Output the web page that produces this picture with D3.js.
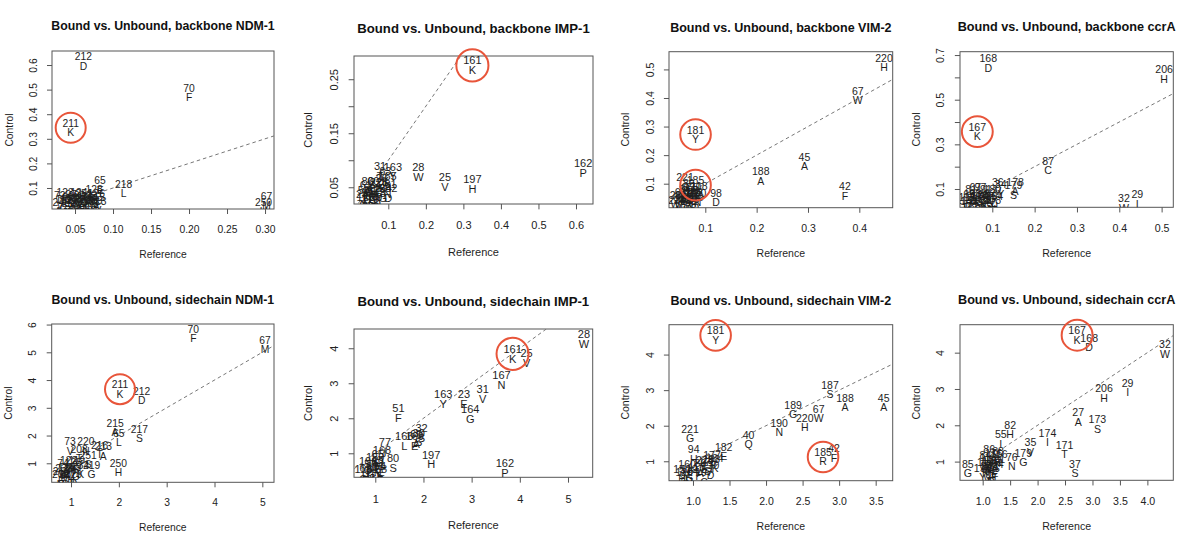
<!DOCTYPE html>
<html><head><meta charset="utf-8">
<script src="https://cdn.jsdelivr.net/npm/d3@7"></script>
<style>
body{margin:0;background:#fff}
svg text{font-family:"Liberation Sans",Arial,Helvetica,sans-serif;fill:#1e1e1e}
</style>
</head><body>
<svg id="c" width="1200" height="546"></svg>
<script>
// ---------------- DATA ----------------
const titles = [
  "Bound vs. Unbound, backbone NDM-1",
  "Bound vs. Unbound, backbone IMP-1",
  "Bound vs. Unbound, backbone VIM-2",
  "Bound vs. Unbound, backbone ccrA",
  "Bound vs. Unbound, sidechain NDM-1",
  "Bound vs. Unbound, sidechain IMP-1",
  "Bound vs. Unbound, sidechain VIM-2",
  "Bound vs. Unbound, sidechain ccrA"
];
const xAxisTitle = "Reference";
const yAxisTitle = "Control";

// [reference, control, residue number, amino acid]
const backboneNDM1 = [
  [0.061,0.615,"212","D"],[0.200,0.486,"70","F"],[0.0443,0.345,"211","K"],
  [0.083,0.111,"65","E"],[0.114,0.097,"218","L"],[0.075,0.076,"128","A"],
  [0.302,0.049,"67","M"],[0.298,0.025,"250","H"],
  [0.037,0.063,"123","T"],[0.030,0.050,"72","V"],[0.028,0.022,"24","A"],
  [0.035,0.035,"119","G"],[0.040,0.045,"69","S"],[0.045,0.055,"97","D"],
  [0.048,0.040,"122","N"],[0.050,0.030,"120","H"],[0.052,0.050,"189","C"],
  [0.055,0.062,"124","Q"],[0.055,0.025,"220","I"],[0.058,0.045,"116","E"],
  [0.060,0.035,"233","R"],[0.062,0.060,"251","G"],[0.064,0.028,"234","K"],
  [0.066,0.048,"64","L"],[0.068,0.040,"66","T"],[0.072,0.052,"73","V"],
  [0.075,0.030,"219","G"],[0.078,0.045,"215","A"],[0.044,0.020,"252","P"],
  [0.040,0.030,"209","S"],[0.070,0.020,"208","Y"],[0.080,0.028,"213","V"],
  [0.078,0.060,"126","T"]
];
const backboneIMP1 = [
  [0.324,0.2756,"161","K"],[0.619,0.085,"162","P"],[0.324,0.0557,"197","H"],
  [0.251,0.0604,"25","V"],[0.180,0.0783,"28","W"],
  [0.078,0.080,"31","T"],[0.112,0.079,"163","Y"],[0.092,0.070,"63","K"],
  [0.098,0.062,"165","S"],[0.045,0.052,"80","A"],[0.060,0.052,"60","E"],
  [0.098,0.047,"281","N"],[0.085,0.040,"164","G"],[0.100,0.040,"282","D"],
  [0.040,0.045,"61","L"],[0.035,0.035,"58","I"],[0.045,0.030,"51","V"],
  [0.050,0.040,"59","T"],[0.055,0.025,"86","S"],[0.060,0.035,"62","Q"],
  [0.065,0.045,"84","H"],[0.070,0.030,"118","D"],[0.075,0.050,"221","C"],
  [0.040,0.022,"120","G"],[0.052,0.020,"119","F"],[0.068,0.022,"29","P"],
  [0.030,0.028,"24","A"],[0.082,0.058,"26","R"]
];
const backboneVIM2 = [
  [0.448,0.524,"220","H"],[0.397,0.409,"67","W"],[0.081,0.272,"181","Y"],
  [0.293,0.176,"45","A"],[0.208,0.126,"188","A"],[0.372,0.0734,"42","F"],
  [0.121,0.0507,"98","D"],
  [0.0605,0.105,"221","G"],[0.081,0.095,"185","R"],[0.088,0.075,"118","C"],
  [0.068,0.085,"86","T"],[0.075,0.070,"120","D"],[0.042,0.045,"28","W"],
  [0.048,0.035,"60","V"],[0.052,0.055,"64","F"],[0.055,0.030,"116","H"],
  [0.058,0.045,"119","P"],[0.060,0.065,"84","E"],[0.062,0.025,"61","L"],
  [0.065,0.050,"179","S"],[0.068,0.035,"210","K"],[0.070,0.060,"198","N"],
  [0.072,0.028,"233","I"],[0.075,0.045,"219","G"],[0.078,0.055,"182","E"],
  [0.080,0.035,"230","Q"],[0.045,0.025,"224","A"],[0.085,0.050,"190","N"]
];
const backboneCcrA = [
  [0.0905,0.663,"168","D"],[0.506,0.615,"206","H"],[0.0646,0.357,"167","K"],
  [0.232,0.205,"87","C"],[0.154,0.110,"178","A"],[0.411,0.036,"32","W"],
  [0.4425,0.054,"29","I"],
  [0.113,0.110,"36","V"],[0.120,0.100,"34","Y"],[0.150,0.095,"179","S"],
  [0.050,0.080,"81","T"],[0.060,0.085,"67","L"],[0.072,0.085,"97","F"],
  [0.085,0.080,"91","E"],[0.100,0.080,"180","G"],[0.095,0.060,"62","N"],
  [0.105,0.045,"204","H"],[0.040,0.040,"117","P"],[0.035,0.030,"115","I"],
  [0.045,0.055,"65","D"],[0.055,0.040,"118","Q"],[0.060,0.060,"68","A"],
  [0.065,0.030,"203","C"],[0.070,0.050,"120","S"],[0.075,0.035,"121","R"],
  [0.080,0.055,"88","K"],[0.085,0.030,"22","M"],[0.090,0.045,"205","G"],
  [0.045,0.025,"142","W"],[0.100,0.030,"208","H"]
];
const sidechainNDM1 = [
  [3.557,5.66,"70","F"],[5.056,5.26,"67","M"],[2.024,3.67,"211","K"],
  [2.478,3.43,"212","D"],[1.92,2.27,"215","A"],[2.0,1.91,"65","L"],
  [2.43,2.05,"217","S"],[1.99,0.85,"250","H"],[1.43,0.76,"219","G"],
  [0.83,0.85,"74","L"],[0.98,1.61,"73","V"],[1.31,1.61,"220","N"],
  [1.17,1.35,"208","T"],[1.36,1.14,"251","S"],[1.675,1.43,"213","A"],
  [1.60,1.50,"216","T"],[1.05,0.87,"125","I"],[0.95,0.95,"122","Y"],
  [1.10,0.70,"69","G"],[0.80,0.55,"260","E"],[0.88,0.40,"64","C"],
  [1.05,0.45,"120","D"],[1.20,0.78,"234","K"],[0.90,0.70,"116","F"],
  [1.00,0.60,"66","H"],[0.85,0.65,"233","P"],[0.95,0.50,"97","Q"],
  [1.12,0.95,"119","R"],[0.78,0.42,"209","N"]
];
const sidechainIMP1 = [
  [5.33,4.27,"28","W"],[3.85,3.84,"161","K"],[4.14,3.73,"25","V"],
  [3.62,3.10,"167","N"],[2.41,2.54,"163","Y"],[2.84,2.55,"23","E"],
  [3.23,2.69,"31","V"],[2.97,2.13,"164","G"],[1.48,2.15,"51","F"],
  [2.16,0.82,"197","H"],[3.69,0.57,"162","P"],
  [1.96,1.57,"32","S"],[1.60,1.35,"166","L"],[1.82,1.35,"169","E"],
  [1.90,1.45,"30","S"],[1.85,1.40,"60","A"],[1.20,1.19,"77","I"],
  [1.14,0.96,"168","T"],[1.00,0.75,"150","D"],[0.90,0.55,"57","G"],
  [1.05,0.60,"59","N"],[0.80,0.45,"62","H"],[0.95,0.40,"61","K"],
  [1.10,0.50,"64","F"],[0.85,0.65,"196","Q"],[1.05,0.85,"65","E"],
  [0.75,0.40,"118","C"],[1.00,0.50,"221","D"],[1.37,0.71,"80","S"],
  [1.12,0.41,"58","T"]
];
const sidechainVIM2 = [
  [1.31,4.54,"181","Y"],[2.875,3.01,"187","S"],[3.08,2.65,"188","A"],
  [3.61,2.64,"45","A"],[2.37,2.45,"189","G"],[2.72,2.33,"67","W"],
  [2.53,2.09,"220","H"],[2.18,1.95,"190","N"],[0.96,1.78,"221","G"],
  [1.76,1.61,"40","Q"],[1.42,1.27,"182","E"],[1.01,1.20,"94","H"],
  [2.78,1.12,"185","R"],[2.93,1.23,"42","F"],
  [1.16,0.90,"223","E"],[1.26,1.05,"177","I"],[1.24,0.75,"170","D"],
  [1.15,0.55,"197","C"],[0.85,0.65,"150","H"],[0.92,0.78,"160","V"],
  [0.95,0.65,"119","G"],[0.88,0.55,"120","H"],[1.05,0.70,"116","T"],
  [1.20,0.85,"178","S"],[1.25,0.92,"183","T"],[0.90,0.50,"61","F"],
  [1.00,0.58,"64","L"],[1.10,0.80,"86","A"],[1.30,0.95,"184","K"]
];
const sidechainCcrA = [
  [2.72,4.48,"167","K"],[2.94,4.28,"168","D"],[4.32,4.09,"32","W"],
  [3.64,3.03,"29","I"],[3.21,2.88,"206","H"],[2.74,2.22,"27","A"],
  [3.09,2.03,"173","S"],[1.50,1.88,"82","H"],[1.33,1.62,"55","I"],
  [2.18,1.66,"174","I"],[2.49,1.33,"171","T"],[1.87,1.40,"35","V"],
  [1.74,1.11,"179","G"],[1.53,1.00,"76","N"],[2.68,0.81,"37","S"],
  [0.73,0.80,"85","G"],[1.12,1.20,"86","L"],
  [1.20,1.10,"176","F"],[1.30,1.08,"116","T"],[1.10,1.00,"118","D"],
  [1.15,0.90,"120","H"],[1.05,0.85,"119","K"],[1.25,0.95,"121","S"],
  [1.00,0.70,"190","Y"],[1.08,0.65,"61","V"],[1.18,0.70,"64","H"],
  [1.22,0.80,"204","E"],[1.12,0.75,"208","Q"],[1.05,1.05,"84","G"],
  [1.28,1.15,"88","R"],[1.15,0.60,"62","D"]
];
const panelData = [backboneNDM1, backboneIMP1, backboneVIM2, backboneCcrA,
                   sidechainNDM1, sidechainIMP1, sidechainVIM2, sidechainCcrA];

// axis domains (data units)
const xDomains = [[0.0197,0.3118],[0.0086,0.6453],[0.0293,0.465],[0.0237,0.5276],
                  [0.596,5.244],[0.558,5.513],[0.672,3.733],[0.587,4.472]];
const yDomains = [[0.0146,0.657],[0.019,0.293],[0.016,0.562],[0.018,0.715],
                  [0.315,6.02],[0.314,4.55],[0.454,4.84],[0.485,4.77]];

// tick values and labels
const xTickValues = [
  [0.05,0.10,0.15,0.20,0.25,0.30],[0.1,0.2,0.3,0.4,0.5,0.6],[0.1,0.2,0.3,0.4],[0.1,0.2,0.3,0.4,0.5],
  [1,2,3,4,5],[1,2,3,4,5],[1.0,1.5,2.0,2.5,3.0,3.5],[1.0,1.5,2.0,2.5,3.0,3.5,4.0]];
const xTickLabels = [
  ["0.05","0.10","0.15","0.20","0.25","0.30"],["0.1","0.2","0.3","0.4","0.5","0.6"],
  ["0.1","0.2","0.3","0.4"],["0.1","0.2","0.3","0.4","0.5"],
  ["1","2","3","4","5"],["1","2","3","4","5"],
  ["1.0","1.5","2.0","2.5","3.0","3.5"],["1.0","1.5","2.0","2.5","3.0","3.5","4.0"]];
const yTickValues = [
  [0.1,0.2,0.3,0.4,0.5,0.6],[0.05,0.10,0.15,0.20,0.25],[0.1,0.2,0.3,0.4,0.5],[0.1,0.2,0.3,0.4,0.5,0.6,0.7],
  [1,2,3,4,5,6],[1,2,3,4],[1,2,3,4],[1,2,3,4]];
const yTickLabels = [
  ["0.1","0.2","0.3","0.4","0.5","0.6"],["0.05","","0.15","","0.25"],
  ["0.1","0.2","0.3","0.4","0.5"],["0.1","","0.3","","0.5","","0.7"],
  ["1","2","3","4","5","6"],["1","2","3","4"],["1","2","3","4"],["1","2","3","4"]];

// circled residues per panel
const circledResidues = [["211"],["161"],["181","185"],["167"],["211"],["161"],["181","185"],["167"]];
// where the dashed identity line (Control = Reference) begins, in Reference units
const identityStart = [0.08,0.02,0.08,0.15,1.6,0.56,1.1,1.28];

// ---------------- LAYOUT ----------------
const layout = [
  {l:52,  r:274,   t:51,   b:209,   s:1.00, ty:26},
  {l:354, r:593,   t:56,   b:204,   s:1.07, ty:28.3},
  {l:669, r:892.7, t:51.7, b:207.7, s:1.02, ty:27.7},
  {l:960, r:1173.3,t:51.7, b:207.3, s:1.03, ty:26.7},
  {l:51.7,r:274,   t:324,  b:482.3, s:1.00, ty:299.7},
  {l:354, r:592.7, t:329,  b:477.3, s:1.07, ty:301.3},
  {l:669, r:892.7, t:324.7,b:480.7, s:1.02, ty:300.7},
  {l:960, r:1173.3,t:324.7,b:480.3, s:1.03, ty:299.7}
];
const BASE = 10.3, TITLE = 12.3;
const frameColor = "#555", circleColor = "#e8553a";

const svg = d3.select("#c");

layout.forEach((L, i) => {
  const s = L.s;
  const x = d3.scaleLinear().domain(xDomains[i]).range([L.l, L.r]);
  const y = d3.scaleLinear().domain(yDomains[i]).range([L.b, L.t]);
  const g = svg.append("g");

  const clipId = "clip" + i;
  svg.append("clipPath").attr("id", clipId).append("rect")
    .attr("x", L.l).attr("y", L.t).attr("width", L.r - L.l).attr("height", L.b - L.t);

  // title
  g.append("text").attr("x", (L.l + L.r) / 2).attr("y", L.ty).attr("dy", "0.35em")
    .attr("text-anchor", "middle").style("font-size", (TITLE * s) + "px").style("font-weight", "bold")
    .style("fill", "#111").text(titles[i]);

  // x axis
  const xa = g.append("g").attr("transform", `translate(0,${L.b})`)
    .call(d3.axisBottom(x).tickValues(xTickValues[i]).tickFormat((d, k) => xTickLabels[i][k])
      .tickSizeOuter(0).tickSize(5 * s));
  xa.select(".domain").remove();
  xa.selectAll("line").attr("stroke", frameColor);
  xa.selectAll("text").attr("y", 20 * s).attr("dy", "0.35em")
    .style("font-size", (BASE * s) + "px").style("fill", "#222").attr("font-family", null);

  // y axis
  const ya = g.append("g").attr("transform", `translate(${L.l},0)`)
    .call(d3.axisLeft(y).tickValues(yTickValues[i]).tickFormat((d, k) => yTickLabels[i][k])
      .tickSizeOuter(0).tickSize(5 * s));
  ya.select(".domain").remove();
  ya.selectAll("line").attr("stroke", frameColor);
  ya.selectAll("text").attr("x", 0).attr("dy", null)
    .attr("transform", `translate(${-19 * s},0) rotate(-90)`)
    .attr("text-anchor", "middle").attr("dominant-baseline", "central")
    .style("font-size", (BASE * s) + "px").style("fill", "#222");

  // axis titles
  g.append("text").attr("x", (L.l + L.r) / 2).attr("y", L.b + 45 * s).attr("dy", "0.35em")
    .attr("text-anchor", "middle").style("font-size", (BASE * s) + "px").text(xAxisTitle);
  g.append("text").attr("transform", `translate(${L.l - 43 * s},${(L.t + L.b) / 2}) rotate(-90)`)
    .attr("text-anchor", "middle").attr("dominant-baseline", "central")
    .style("font-size", (BASE * s) + "px").text(yAxisTitle);

  // frame
  g.append("rect").attr("x", L.l).attr("y", L.t).attr("width", L.r - L.l).attr("height", L.b - L.t)
    .attr("fill", "none").attr("stroke", frameColor).attr("stroke-width", 1);

  const inner = g.append("g").attr("clip-path", `url(#${clipId})`);

  // identity line
  const x0 = identityStart[i], x1 = Math.max(xDomains[i][1], yDomains[i][1]) * 1.2;
  inner.append("line").attr("x1", x(x0)).attr("y1", y(x0)).attr("x2", x(x1)).attr("y2", y(x1))
    .attr("stroke", "#777").attr("stroke-width", 1).attr("stroke-dasharray", "3.5,3");

  // labels
  const pts = inner.selectAll("g.pt").data(panelData[i]).enter().append("g").attr("class", "pt")
    .attr("transform", d => `translate(${x(d[0])},${y(d[1])})`);
  pts.append("text").attr("y", -4.6 * s).attr("dy", "0.36em").attr("text-anchor", "middle")
    .style("font-size", (BASE * s) + "px").text(d => d[2]);
  pts.append("text").attr("y", 4.6 * s).attr("dy", "0.36em").attr("text-anchor", "middle")
    .style("font-size", (BASE * s) + "px").text(d => d[3]);

  // circles
  const circ = panelData[i].filter(d => circledResidues[i].includes(d[2]));
  g.selectAll("circle.hl").data(circ).enter().append("circle").attr("class", "hl")
    .attr("cx", d => x(d[0])).attr("cy", d => y(d[1])).attr("r", 15 * s)
    .attr("fill", "none").attr("stroke", circleColor).attr("stroke-width", 2);
});
</script>
</body></html>
